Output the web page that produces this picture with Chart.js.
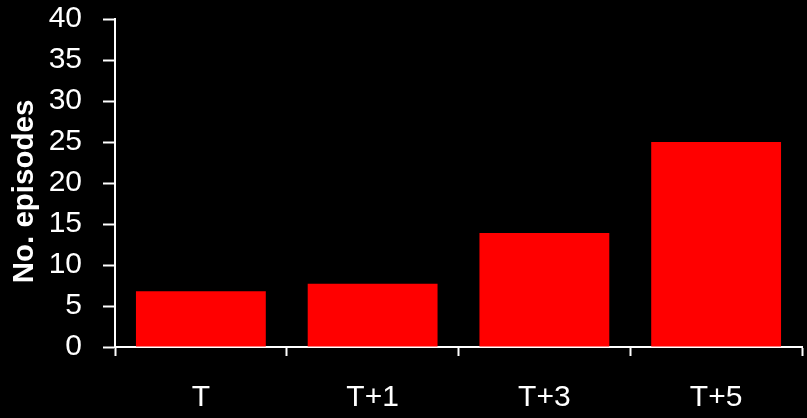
<!DOCTYPE html>
<html>
<head>
<meta charset="utf-8">
<script src="https://cdn.jsdelivr.net/npm/chart.js@4.4.1/dist/chart.umd.min.js"></script>
<style>
  html, body { margin: 0; padding: 0; background: #000; }
  #wrap { width: 807px; height: 418px; position: relative; }
</style>
</head>
<body>
<div id="wrap"><canvas id="chart" width="807" height="418"></canvas></div>
<script>
// Episode counts per time point
const categories = ['T', 'T+1', 'T+3', 'T+5'];
const episodes = [6.8, 7.7, 13.9, 25];
const yTitle = 'No. episodes';
const yMin = 0, yMax = 40, yStep = 5;

const FONT = '"Liberation Sans", Arial, Helvetica, sans-serif';

// Rotated axis title drawn beside the value axis
const axisTitlePlugin = {
  id: 'axisTitle',
  afterDraw(chart) {
    const { ctx, chartArea } = chart;
    ctx.save();
    ctx.fillStyle = '#ffffff';
    ctx.font = 'bold 29.5px ' + FONT;
    ctx.textAlign = 'center';
    ctx.textBaseline = 'alphabetic';
    ctx.translate(33, (chartArea.top + chartArea.bottom) / 2 + 8.5);
    ctx.rotate(-Math.PI / 2);
    ctx.fillText(yTitle, 0, 0);
    ctx.restore();
  }
};

new Chart(document.getElementById('chart'), {
  type: 'bar',
  data: {
    labels: categories,
    datasets: [{
      data: episodes,
      backgroundColor: '#ff0000',
      borderWidth: 0,
      categoryPercentage: 0.756,
      barPercentage: 1
    }]
  },
  options: {
    responsive: false,
    animation: false,
    devicePixelRatio: 1,
    layout: { padding: { top: 0, right: 5, left: 0, bottom: 0 } },
    plugins: { legend: { display: false }, tooltip: { enabled: false } },
    scales: {
      x: {
        offset: true,
        grid: {
          offset: true,
          drawOnChartArea: false,
          drawTicks: true,
          tickLength: 9,
          tickWidth: 2,
          tickColor: '#ffffff',
          color: '#ffffff'
        },
        border: { display: true, color: '#ffffff', width: 2 },
        ticks: {
          color: '#ffffff',
          font: { family: FONT, size: 30 },
          padding: 24,
          maxRotation: 0,
          autoSkip: false
        },
        afterFit(scale) { scale.height = 71; }
      },
      y: {
        min: yMin,
        max: yMax,
        grid: {
          drawOnChartArea: false,
          drawTicks: true,
          tickLength: 12,
          tickWidth: 2,
          tickColor: '#ffffff',
          color: '#ffffff'
        },
        border: { display: true, color: '#ffffff', width: 2 },
        ticks: {
          stepSize: yStep,
          color: '#ffffff',
          font: { family: FONT, size: 30 },
          padding: 21,
          autoSkip: false
        },
        afterFit(scale) {
          scale.width = 115;
          scale.paddingTop = 19;
          scale.paddingBottom = 0;
        }
      }
    }
  },
  plugins: [axisTitlePlugin]
});
</script>
</body>
</html>
